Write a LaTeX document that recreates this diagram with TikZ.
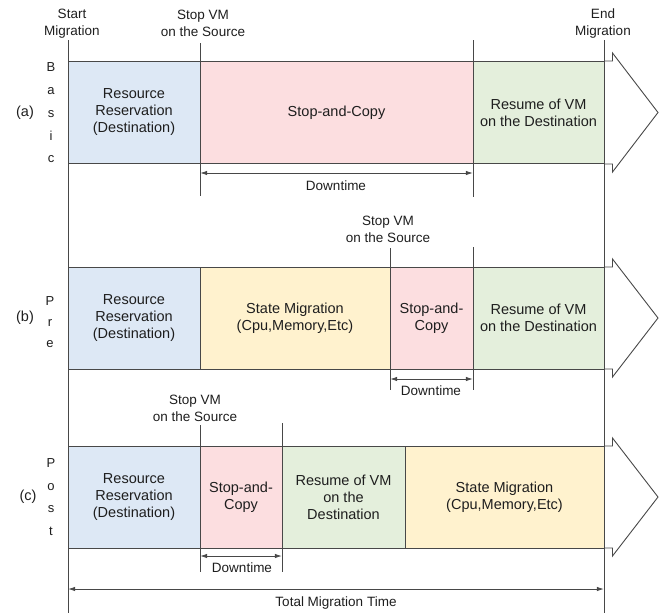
\documentclass[tikz,border=0pt]{standalone}
\usepackage{fontspec}
\setmainfont{Liberation Sans}
\usepackage{tikz}
\usetikzlibrary{arrows.meta}
\pgfdeclarelayer{bg}
\pgfsetlayers{bg,main}
\definecolor{resblue}{RGB}{221,232,245}
\definecolor{stoppink}{RGB}{252,222,224}
\definecolor{resgreen}{RGB}{228,239,220}
\definecolor{stateyellow}{RGB}{255,242,206}
\definecolor{linegray}{RGB}{72,72,72}
\definecolor{inkgray}{RGB}{30,30,30}
\tikzset{empty/.style={draw=none, fill=none, minimum size=0mm, inner sep=0mm}}
\tikzset{phase/.style={draw=linegray, line width=1pt, minimum height=102pt, inner sep=0pt,
    align=center, text=inkgray, font=\fontsize{14.5}{17}\selectfont}}
\tikzset{tag/.style={align=center, inner sep=0pt, text=inkgray, font=\fontsize{13.5}{17}\selectfont}}
\tikzset{letters/.style={align=center, inner sep=0pt, text=inkgray, font=\fontsize{13}{22.75}\selectfont}}
\tikzset{timeline/.style={draw=linegray, line width=0.8pt}}
\tikzset{span/.style={draw=linegray, line width=0.8pt, {Latex[length=7pt,width=4.5pt]}-{Latex[length=7pt,width=4.5pt]}}}
\tikzset{headline/.style={draw=linegray, line width=0.9pt, fill=white}}

\begin{document}
\begin{tikzpicture}[x=1pt, y=-1pt]
    \useasboundingbox (0,0) rectangle (661,613);

    % (a) basic
    \node (a1) at (134,112.5) [phase, fill=resblue, minimum width=132pt] {Resource\\Reservation\\(Destination)};
    \node (a2) at (336.5,112.5) [phase, fill=stoppink, minimum width=273pt] {Stop-and-Copy};
    \node (a3) at (538.5,112.5) [phase, fill=resgreen, minimum width=131pt] {Resume of VM\\on the Destination};
    \draw [headline] (604,61) -- (612.5,61) -- (612.5,53) -- (658,112.5) -- (612.5,172) -- (612.5,164) -- (604,164);
    \node (pa) at (25,113) [tag, font=\fontsize{14.5}{17}\selectfont] {(a)};
    \node (la) at (51,113) [letters] {B\\a\\s\\i\\c};

    % (b) pre
    \node (b1) at (134,318) [phase, fill=resblue, minimum width=132pt] {Resource\\Reservation\\(Destination)};
    \node (b2) at (295,318) [phase, fill=stateyellow, minimum width=190pt] {State Migration\\(Cpu,Memory,Etc)};
    \node (b3) at (431.5,318) [phase, fill=stoppink, minimum width=83pt] {Stop-and-\\Copy};
    \node (b4) at (538.5,318) [phase, fill=resgreen, minimum width=131pt] {Resume of VM\\on the Destination};
    \draw [headline] (604,267) -- (612.5,267) -- (612.5,259) -- (658,318) -- (612.5,377) -- (612.5,369) -- (604,369);
    \node (pb) at (25,318) [tag, font=\fontsize{14.5}{17}\selectfont] {(b)};
    \node (lb) at (50,322) [letters, font=\fontsize{13}{21}\selectfont] {P\\r\\e};

    % (c) post
    \node (c1) at (134,497) [phase, fill=resblue, minimum width=132pt] {Resource\\Reservation\\(Destination)};
    \node (c2) at (241,497) [phase, fill=stoppink, minimum width=82pt] {Stop-and-\\Copy};
    \node (c3) at (343.5,497) [phase, fill=resgreen, minimum width=123pt] {Resume of VM\\on the\\Destination};
    \node (c4) at (504.5,497) [phase, fill=stateyellow, minimum width=199pt] {State Migration\\(Cpu,Memory,Etc)};
    \draw [headline] (604,446) -- (612.5,446) -- (612.5,438) -- (658,497) -- (612.5,556) -- (612.5,548) -- (604,548);
    \node (pc) at (28,497) [tag, font=\fontsize{14.5}{17}\selectfont] {(c)};
    \node (lc) at (51,497) [letters] {P\\o\\s\\t};

    % time marks
    \node (s0) [empty] at (68,40) {};
    \node (s1) [empty] at (68,613) {};
    \node (e0) [empty] at (604,40) {};
    \node (e1) [empty] at (604,613) {};
    \node (ma0) [empty] at (200,43) {};
    \node (ma1) [empty] at (200,196) {};
    \node (na0) [empty] at (473,40) {};
    \node (na1) [empty] at (473,197) {};
    \node (mb0) [empty] at (390,248) {};
    \node (mb1) [empty] at (390,390) {};
    \node (nb0) [empty] at (473,247) {};
    \node (nb1) [empty] at (473,390) {};
    \node (mc0) [empty] at (200,425) {};
    \node (mc1) [empty] at (200,572) {};
    \node (nc0) [empty] at (282,423) {};
    \node (nc1) [empty] at (282,572) {};

    \draw (s0) edge [timeline] (s1);
    \draw (e0) edge [timeline] (e1);
    \draw (ma0) edge [timeline] (ma1);
    \draw (na0) edge [timeline] (na1);
    \draw (mb0) edge [timeline] (mb1);
    \draw (nb0) edge [timeline] (nb1);
    \draw (mc0) edge [timeline] (mc1);
    \draw (nc0) edge [timeline] (nc1);

    \node (start) at (72,23.5) [tag] {Start\\Migration};
    \node (stopa) at (203,23.5) [tag] {Stop VM\\on the Source};
    \node (endm) at (603,23.5) [tag] {End\\Migration};
    \node (stopb) at (388,229) [tag] {Stop VM\\on the Source};
    \node (stopc) at (195,408.5) [tag] {Stop VM\\on the Source};

    % downtime and total
    \node (da0) [empty] at (200,173) {};
    \node (da1) [empty] at (473,173) {};
    \node (db0) [empty] at (390,379) {};
    \node (db1) [empty] at (473,379) {};
    \node (dc0) [empty] at (200,556) {};
    \node (dc1) [empty] at (282,556) {};
    \node (t0) [empty] at (68,589) {};
    \node (t1) [empty] at (604,589) {};

    \draw (da0) edge [span] (da1);
    \draw (db0) edge [span] (db1);
    \draw (dc0) edge [span] (dc1);
    \draw (t0) edge [span] (t1);

    \node (dta) at (336,186) [tag] {Downtime};
    \node (dtb) at (431,391) [tag] {Downtime};
    \node (dtc) at (242,568) [tag] {Downtime};
    \node (tot) at (336,603) [tag] {Total Migration Time};
\end{tikzpicture}
\end{document}
